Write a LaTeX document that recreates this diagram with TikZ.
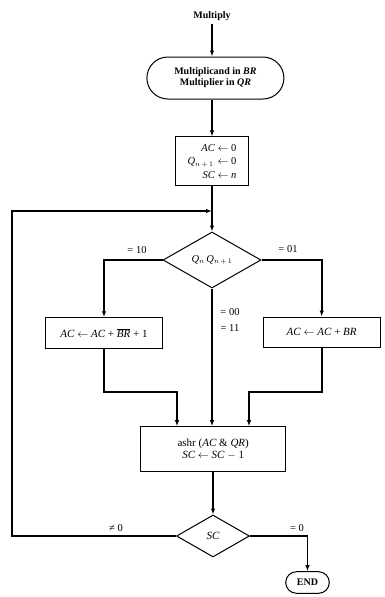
\documentclass[tikz,border=0pt]{standalone}
\usepackage{fontspec}
\setmainfont{Liberation Serif}
\usetikzlibrary{shapes.geometric,arrows.meta}
\begin{document}
\begin{tikzpicture}[x=1pt,y=-1pt,
  txt/.style={font=\fontsize{11}{12.5}\selectfont},
  box/.style={txt,draw,line width=1pt,rectangle,inner sep=0pt,align=center},
  term/.style={box,font=\fontsize{10}{11}\selectfont\bfseries},
  dec/.style={txt,draw,line width=1pt,diamond,inner sep=0pt},
  lab/.style={font=\fontsize{10.5}{11}\selectfont},
  conn/.style={line width=1.8pt,-{Latex[length=6pt,width=4.5pt]}}]
\useasboundingbox (0,0) rectangle (384,597);
\node[txt,font=\fontsize{10}{12}\selectfont\bfseries] (mult) at (212,16) {Multiply};
\node[term,minimum width=137pt,minimum height=42pt,rounded corners=21pt] (start) at (215.4,78)
  {Multiplicand in \textit{BR}\\Multiplier in \textit{QR}};
\node[box,minimum width=72.6pt,minimum height=48.7pt,align=right,font=\fontsize{10.5}{13.5}\selectfont] (init) at (212,161.3)
  {\textit{AC} $\leftarrow$ 0\\ \textit{Q}$_{n\,+\,1}$\hspace{4pt}$\leftarrow$ 0\\ \textit{SC} $\leftarrow$ \textit{n}};
\node[dec,minimum width=98pt,minimum height=56pt,font=\fontsize{10.5}{12}\selectfont] (d1) at (212,260) {\textit{Q}$_n$\,\textit{Q}$_{n\,+\,1}$};
\node[box,minimum width=116.6pt,minimum height=30.5pt] (lb) at (104,333)
  {\textit{AC} $\leftarrow$ \textit{AC} + $\overline{\textit{BR}}$ + 1};
\node[box,minimum width=116.7pt,minimum height=30pt] (rb) at (321.7,332)
  {\textit{AC} $\leftarrow$ \textit{AC} + \textit{BR}};
\node[box,minimum width=145pt,minimum height=45pt] (sh) at (213.2,449.2)
  {ashr (\textit{AC} \& \textit{QR})\\ \textit{SC} $\leftarrow$ \textit{SC} $-$ 1};
\node[dec,minimum width=73pt,minimum height=42pt] (d2) at (213,536) {\textit{SC}};
\node[term,minimum width=43.6pt,minimum height=21.6pt,rounded corners=10.8pt] (endn) at (307.5,582.5) {END};
\coordinate (jn) at (212,211);
\coordinate (lp) at (12,211);
\coordinate (ml) at (177,392);
\coordinate (mr) at (249,392);
\draw[conn] (mult.south) -- (mult.south |- start.north);
\draw[conn] (mult.south |- start.south) -- (mult.south |- init.north);
\draw[conn] (init.south) -- (d1.north);
\draw[conn] (d1.west) -| (lb.north);
\draw[conn] (d1.east) -| (rb.north);
\draw[conn] (d1.south) -- (d1.south |- sh.north);
\draw[conn] (lb.south) |- (ml) -- (ml |- sh.north);
\draw[conn] (rb.south) |- (mr) -- (mr |- sh.north);
\draw[conn] (sh.south -| d2.north) -- (d2.north);
\draw[conn] (d2.west) -- (d2.west -| lp) -- (lp) -- (jn);
\draw[conn] (d2.east) -| (endn.north);
\node[lab] (l10) at (137,250) {= 10};
\node[lab] (l01) at (288,249) {= 01};
\node[lab] (l00) at (230,312) {= 00};
\node[lab] (l11) at (230,328) {= 11};
\node[lab] (lne) at (116,528) {≠ 0};
\node[lab] (leq) at (297,528) {= 0};
\end{tikzpicture}
\end{document}
